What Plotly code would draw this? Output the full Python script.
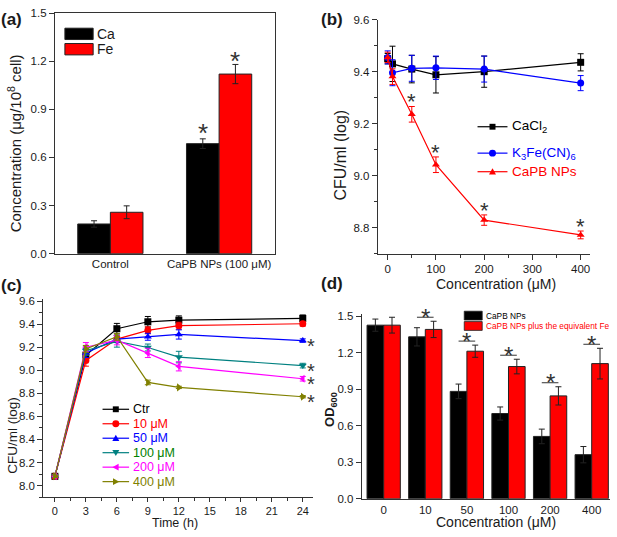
import plotly.graph_objects as go

# ---------------- data ----------------
# (a) intracellular Ca / Fe
a_groups = ["Control", "CaPB NPs (100 μM)"]
a_ca = [0.185, 0.686]
a_ca_err = [0.02, 0.03]
a_fe = [0.258, 1.12]
a_fe_err = [0.04, 0.06]
a_sig = [False, True]

# (b) CFU vs concentration
b_conc = [0, 10, 50, 100, 200, 400]
b_cacl2 = [9.45, 9.43, 9.41, 9.388, 9.40, 9.436]
b_cacl2_err = [0.02, 0.068, 0.053, 0.07, 0.06, 0.033]
b_k3 = [9.455, 9.396, 9.413, 9.415, 9.41, 9.356]
b_k3_err = [0.025, 0.05, 0.05, 0.045, 0.05, 0.029]
b_capb = [9.455, 9.381, 9.236, 9.042, 8.829, 8.772]
b_capb_err = [0.02, 0.03, 0.03, 0.03, 0.02, 0.015]
b_sig = [False, False, True, True, True, True]

# (c) growth curves
c_time = [0, 3, 6, 9, 12, 24]
c_names = ["Ctr", "10 μM", "50 μM", "100 μM", "200 μM", "400 μM"]
c_vals = [
    [8.08, 9.13, 9.36, 9.42, 9.434, 9.449],
    [8.08, 9.085, 9.27, 9.346, 9.386, 9.403],
    [8.08, 9.15, 9.27, 9.29, 9.31, 9.257],
    [8.08, 9.17, 9.25, 9.197, 9.114, 9.04],
    [8.08, 9.20, 9.26, 9.15, 9.034, 8.926],
    [8.08, 9.185, 9.29, 8.894, 8.851, 8.77],
]
c_errs = [
    [0.01, 0.05, 0.046, 0.046, 0.037, 0.03],
    [0.01, 0.05, 0.03, 0.03, 0.03, 0.02],
    [0.01, 0.04, 0.03, 0.03, 0.04, 0.015],
    [0.01, 0.04, 0.05, 0.03, 0.05, 0.02],
    [0.01, 0.04, 0.04, 0.04, 0.04, 0.02],
    [0.01, 0.03, 0.03, 0.02, 0.01, 0.01],
]
c_sig = [False, False, True, True, True, True]

# (d) OD600
d_conc = ["0", "10", "50", "100", "200", "400"]
d_capb = [1.426, 1.33, 0.882, 0.70, 0.512, 0.362]
d_capb_err = [0.05, 0.075, 0.06, 0.054, 0.06, 0.067]
d_fe = [1.426, 1.391, 1.212, 1.086, 0.845, 1.11]
d_fe_err = [0.065, 0.067, 0.05, 0.06, 0.075, 0.126]
d_sig = [False, True, True, True, True, True]

# ---------------- styling ----------------
W, H = 617, 537
FONT = "Liberation Sans, Arial, sans-serif"
AX = "#333333"
TXT = "#1a1a1a"

def px(x):
    return x / W

def py(y):
    return 1 - y / H

# axis geometry (pixel domains) and ranges
A_X, A_Y = (55, 275), (253.3, 7.3)
B_X, B_Y = (378.3, 590.7), (253.3, 14)
C_X, C_Y = (43.3, 313.3), (502.3, 300)
D_X, D_Y = (362.3, 611), (504, 315)
A_XR, A_YR = [-0.51, 1.51], [0, 1.5]
B_XR, B_YR = [-20.7, 418.8], [8.70, 9.60]
C_XR, C_YR = [-1.13, 24.97], [7.90, 9.615]
D_XR, D_YR = [-0.528, 5.44], [0, 1.518]

def to_paper_x(v, dom, rng):
    return px(dom[0]) + (v - rng[0]) / (rng[1] - rng[0]) * (px(dom[1]) - px(dom[0]))

def to_paper_y(v, dom, rng):
    return py(dom[0]) + (v - rng[0]) / (rng[1] - rng[0]) * (py(dom[1]) - py(dom[0]))

c_colors = ["#000000", "#FF0000", "#0000FF", "#008080", "#FF00FF", "#808000"]
c_text_colors = ["#000000", "#FF0000", "#0000FF", "#008000", "#FF00FF", "#808000"]
c_symbols = ["square", "circle", "triangle-up", "triangle-down", "triangle-left", "triangle-right"]

fig = go.Figure()

# (a) bars
fig.add_trace(go.Bar(x=[0, 1], y=a_ca, width=0.3, offset=-0.3, xaxis="x", yaxis="y",
                     marker=dict(color="#000000", line=dict(color="#222", width=1)),
                     error_y=dict(type="data", array=a_ca_err, color="#222", thickness=1, width=3),
                     showlegend=False))
fig.add_trace(go.Bar(x=[0, 1], y=a_fe, width=0.3, offset=0, xaxis="x", yaxis="y",
                     marker=dict(color="#FF0000", line=dict(color="#222", width=1)),
                     error_y=dict(type="data", array=a_fe_err, color="#222", thickness=1, width=3),
                     showlegend=False))

# (b) lines
for vals, errs, col, sym in [(b_cacl2, b_cacl2_err, "#000000", "square"),
                             (b_k3, b_k3_err, "#0000FF", "circle"),
                             (b_capb, b_capb_err, "#FF0000", "triangle-up")]:
    fig.add_trace(go.Scatter(x=b_conc, y=vals, mode="lines+markers", xaxis="x2", yaxis="y2",
                             line=dict(color=col, width=1.2),
                             marker=dict(symbol=sym, size=7, color=col),
                             error_y=dict(type="data", array=errs, color=col, thickness=1, width=3),
                             cliponaxis=False, showlegend=False))

# (c) lines
for vals, errs, col, sym in zip(c_vals, c_errs, c_colors, c_symbols):
    fig.add_trace(go.Scatter(x=c_time, y=vals, mode="lines+markers", xaxis="x3", yaxis="y3",
                             line=dict(color=col, width=1.2),
                             marker=dict(symbol=sym, size=7, color=col),
                             error_y=dict(type="data", array=errs, color=col, thickness=1, width=3),
                             cliponaxis=False, showlegend=False))

# (d) bars
d_x = list(range(len(d_conc)))
fig.add_trace(go.Bar(x=d_x, y=d_capb, width=0.4, offset=-0.4, xaxis="x4", yaxis="y4",
                     marker=dict(color="#000000", line=dict(color="#222", width=1)),
                     error_y=dict(type="data", array=d_capb_err, color="#222", thickness=1, width=3),
                     showlegend=False))
fig.add_trace(go.Bar(x=d_x, y=d_fe, width=0.4, offset=0, xaxis="x4", yaxis="y4",
                     marker=dict(color="#FF0000", line=dict(color="#222", width=1)),
                     error_y=dict(type="data", array=d_fe_err, color="#222", thickness=1, width=3),
                     showlegend=False))

ann = []
shapes = []

def star(xd, yd, xdom, xr, ydom, yr, size=26):
    ann.append(dict(x=to_paper_x(xd, xdom, xr), y=to_paper_y(yd, ydom, yr),
                    xref="paper", yref="paper", text="*", showarrow=False,
                    xanchor="center", yanchor="middle", yshift=-size * 0.25,
                    font=dict(family=FONT, size=size, color="#333")))

# stars (a)
for i, s in enumerate(a_sig):
    if s:
        star(i - 0.15, a_ca[i] + a_ca_err[i] + 0.075, A_X, A_XR, A_Y, A_YR)
        star(i + 0.15, a_fe[i] + a_fe_err[i] + 0.065, A_X, A_XR, A_Y, A_YR)
# stars (b)
for i, s in enumerate(b_sig):
    if s:
        star(b_conc[i], b_capb[i] + b_capb_err[i] + 0.04, B_X, B_XR, B_Y, B_YR, size=22)
# stars (c)
for vals, s in zip(c_vals, c_sig):
    if s:
        star(24.8, vals[-1], C_X, C_XR, C_Y, C_YR, size=20)
# stars + lines (d)
for i, s in enumerate(d_sig):
    if s:
        top = max(d_capb[i] + d_capb_err[i], d_fe[i] + d_fe_err[i])
        yl = top + 0.033
        shapes.append(dict(type="line", xref="paper", yref="paper",
                           x0=to_paper_x(i - 0.2, D_X, D_XR), x1=to_paper_x(i + 0.2, D_X, D_XR),
                           y0=to_paper_y(yl, D_Y, D_YR), y1=to_paper_y(yl, D_Y, D_YR),
                           line=dict(color="#333", width=1)))
        star(i, yl + 0.05, D_X, D_XR, D_Y, D_YR, size=24)

def text(x, y, t, size, color=TXT, xanchor="center", angle=0, bold=False):
    if bold:
        t = "<b>" + t + "</b>"
    ann.append(dict(x=px(x), y=py(y), xref="paper", yref="paper", text=t, showarrow=False,
                    xanchor=xanchor, yanchor="middle", textangle=angle,
                    font=dict(family=FONT, size=size, color=color)))

# panel labels
text(11.7, 14, "(a)", 17, bold=True)
text(332.5, 14, "(b)", 17, bold=True)
text(11.7, 286, "(c)", 17, bold=True)
text(333, 283.5, "(d)", 17, bold=True)

# axis titles
text(14.5, 140, "Concentration (μg/10<sup>8</sup> cell)", 15, angle=-90)
text(341.5, 152, "CFU/ml (log)", 16, angle=-90)
text(496.7, 284.5, "Concentration (μM)", 14)
text(12.5, 439, "CFU/ml (log)", 13.5, angle=-90)
text(175, 529, "Time (h)", 12.5)
text(331.7, 413, "OD<sub>600</sub>", 13, angle=-90, bold=True)
text(497, 528, "Concentration (μM)", 14)

def marker_shape(sym, cx, cy, color, s=3.5):
    if sym == "square":
        shapes.append(dict(type="rect", xref="paper", yref="paper", x0=px(cx - s + 0.5), x1=px(cx + s - 0.5),
                           y0=py(cy + s - 0.5), y1=py(cy - s + 0.5), fillcolor=color, line=dict(width=0)))
        return
    if sym == "circle":
        shapes.append(dict(type="circle", xref="paper", yref="paper", x0=px(cx - s), x1=px(cx + s),
                           y0=py(cy + s), y1=py(cy - s), fillcolor=color, line=dict(width=0)))
        return
    pts = {
        "triangle-up": [(0, -s), (s, s * 0.8), (-s, s * 0.8)],
        "triangle-down": [(0, s), (s, -s * 0.8), (-s, -s * 0.8)],
        "triangle-left": [(-s, 0), (s * 0.8, -s), (s * 0.8, s)],
        "triangle-right": [(s, 0), (-s * 0.8, -s), (-s * 0.8, s)],
    }[sym]
    path = "M " + " L ".join(f"{px(cx + dx):.5f},{py(cy + dy):.5f}" for dx, dy in pts) + " Z"
    shapes.append(dict(type="path", xref="paper", yref="paper", path=path,
                       fillcolor=color, line=dict(width=0)))

def legend_line(x0, x1, y, color, sym):
    shapes.append(dict(type="line", xref="paper", yref="paper", x0=px(x0), x1=px(x1),
                       y0=py(y), y1=py(y), line=dict(color=color, width=1.2)))
    marker_shape(sym, (x0 + x1) / 2, y, color)

# legend (a)
for yy, col, lab in [(28.5, "#000000", "Ca"), (44.2, "#FF0000", "Fe")]:
    shapes.append(dict(type="rect", xref="paper", yref="paper", x0=px(65), x1=px(93.3),
                       y0=py(yy + 5.8), y1=py(yy - 5.8), fillcolor=col, line=dict(color="#222", width=1)))
    text(95.5, yy, lab, 14, xanchor="left")

# legend (b)
for yy, col, sym, lab in [(123.5, "#000000", "square", "CaCl<sub>2</sub>"),
                          (150.5, "#0000FF", "circle", "K<sub>3</sub>Fe(CN)<sub>6</sub>"),
                          (169.5, "#FF0000", "triangle-up", "CaPB NPs")]:
    legend_line(478.3, 508.3, yy, col, sym)
    text(511, yy, lab, 13.5, color=col, xanchor="left")

# legend (c)
for k in range(len(c_names)):
    yy = 412.5 + 14.8 * k
    legend_line(102.7, 129.3, yy, c_colors[k], c_symbols[k])
    text(131.5, yy, c_names[k], 12.5, color=c_text_colors[k], xanchor="left")

# legend (d)
for yy, col, lab in [(316.7, "#000000", "CaPB NPs"), (327.3, "#FF0000", "CaPB NPs plus the equivalent Fe")]:
    shapes.append(dict(type="rect", xref="paper", yref="paper", x0=px(465), x1=px(483),
                       y0=py(yy + 4.5), y1=py(yy - 4.5), fillcolor=col, line=dict(color="#222", width=0.8)))
    text(485, yy, lab, 8.3, color=("#000000" if col == "#000000" else "#FF0000"), xanchor="left")

tickfont = dict(family=FONT, size=11.5, color=TXT)
base = dict(showgrid=False, zeroline=False, showline=True, linecolor=AX, linewidth=1,
            tickcolor=AX, tickfont=tickfont, tickwidth=1)

fig.update_layout(
    width=W, height=H, margin=dict(l=0, r=0, t=0, b=0),
    plot_bgcolor="white", paper_bgcolor="white", barmode="overlay", showlegend=False,
    font=dict(family=FONT, color=TXT),
    xaxis=dict(base, domain=[px(A_X[0]), px(A_X[1])], range=A_XR, anchor="y",
               tickvals=[0, 1], ticktext=a_groups, ticks="", mirror=True),
    yaxis=dict(base, domain=[py(A_Y[0]), py(A_Y[1])], range=A_YR, anchor="x",
               tickvals=[0, 0.3, 0.6, 0.9, 1.2, 1.5], tickformat=".1f", ticks="outside", ticklen=5,
               mirror=True),
    xaxis2=dict(base, domain=[px(B_X[0]), px(B_X[1])], range=B_XR, anchor="y2",
                tickvals=[0, 100, 200, 300, 400], ticks="outside", ticklen=5,
                minor=dict(ticks="outside", ticklen=3, dtick=50, tick0=0, tickcolor=AX)),
    yaxis2=dict(base, domain=[py(B_Y[0]), py(B_Y[1])], range=B_YR, anchor="x2",
                tickvals=[8.8, 9.0, 9.2, 9.4, 9.6], tickformat=".1f", ticks="outside", ticklen=5,
                minor=dict(ticks="outside", ticklen=3, dtick=0.1, tick0=8.8, tickcolor=AX)),
    xaxis3=dict(base, domain=[px(C_X[0]), px(C_X[1])], range=C_XR, anchor="y3",
                tickvals=list(range(0, 25, 3)), ticks="outside", ticklen=4,
                tickfont=dict(family=FONT, size=11, color=TXT),
                minor=dict(ticks="outside", ticklen=2.5, dtick=1.5, tick0=0, tickcolor=AX)),
    yaxis3=dict(base, domain=[py(C_Y[0]), py(C_Y[1])], range=C_YR, anchor="x3",
                tickvals=[8.0, 8.2, 8.4, 8.6, 8.8, 9.0, 9.2, 9.4, 9.6], tickformat=".1f",
                ticks="outside", ticklen=5,
                minor=dict(ticks="outside", ticklen=3, dtick=0.1, tick0=8.0, tickcolor=AX)),
    xaxis4=dict(base, domain=[px(D_X[0]), px(D_X[1])], range=D_XR, anchor="y4",
                tickvals=d_x, ticktext=d_conc, ticks=""),
    yaxis4=dict(base, domain=[py(D_Y[0]), py(D_Y[1])], range=D_YR, anchor="x4",
                tickvals=[0, 0.3, 0.6, 0.9, 1.2, 1.5], tickformat=".1f", ticks="outside", ticklen=5),
    annotations=ann,
    shapes=shapes,
)

fig.write_html("out.html", config={"displayModeBar": False},
               post_script="document.body.style.margin='0';document.body.style.padding='0';"
                           "document.body.style.overflow='hidden';")
